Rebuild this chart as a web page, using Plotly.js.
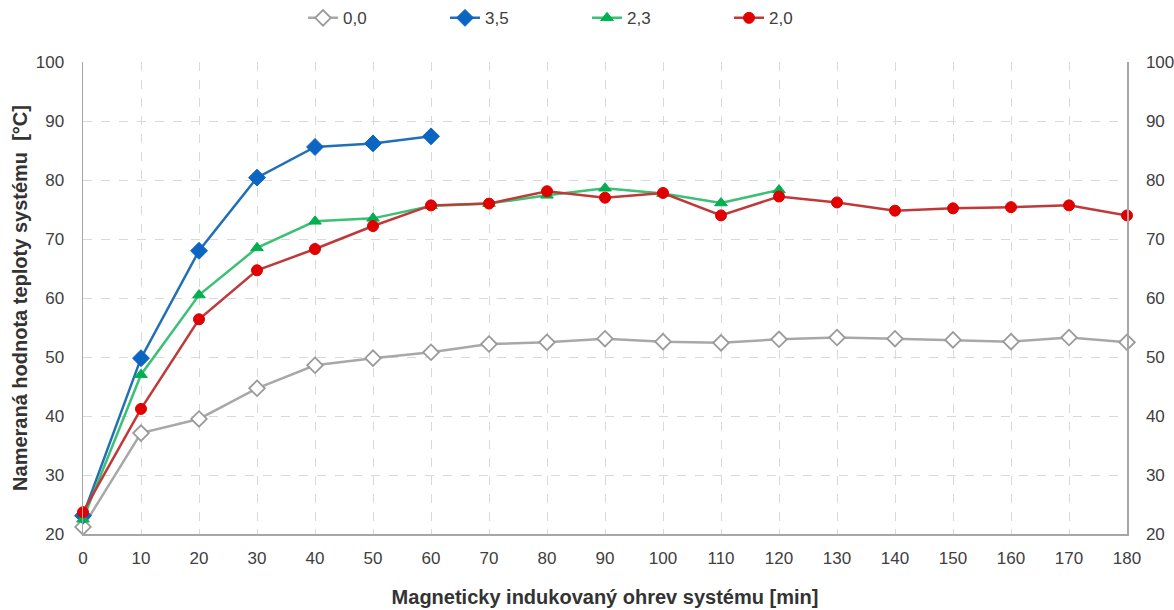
<!DOCTYPE html>
<html>
<head>
<meta charset="utf-8">
<script src="https://cdn.plot.ly/plotly-3.0.1.min.js"></script>
<style>
  html, body { margin: 0; padding: 0; background: #fff; }
  #chart { width: 1174px; height: 610px; }
</style>
</head>
<body>
<div id="chart"></div>
<script>
// Heating time [min]
const timeFull = [0, 10, 20, 30, 40, 50, 60, 70, 80, 90, 100, 110, 120, 130, 140, 150, 160, 170, 180];
const time60 = [0, 10, 20, 30, 40, 50, 60];
const time120 = [0, 10, 20, 30, 40, 50, 60, 70, 80, 90, 100, 110, 120];

// Measured system temperature [°C] per series
const seriesNames = ['0,0', '3,5', '2,3', '2,0'];
const temp00 = [21.2, 37.1, 39.5, 44.7, 48.6, 49.8, 50.8, 52.2, 52.5, 53.1, 52.6, 52.4, 53.0, 53.3, 53.1, 52.9, 52.6, 53.3, 52.5];
const temp35 = [23.1, 49.8, 68.0, 80.4, 85.6, 86.2, 87.4];
const temp23 = [22.5, 47.0, 60.5, 68.5, 73.0, 73.5, 75.6, 76.0, 77.4, 78.6, 77.7, 76.1, 78.3];
const temp20 = [23.7, 41.2, 56.4, 64.7, 68.3, 72.2, 75.7, 76.0, 78.1, 77.0, 77.8, 74.0, 77.2, 76.2, 74.8, 75.2, 75.4, 75.7, 74.0];

const xTicks = [0, 10, 20, 30, 40, 50, 60, 70, 80, 90, 100, 110, 120, 130, 140, 150, 160, 170, 180];
const yTicks = [20, 30, 40, 50, 60, 70, 80, 90, 100];

const traces = [
  {
    x: timeFull, y: temp00, name: seriesNames[0], type: 'scatter', mode: 'lines+markers', cliponaxis: false,
    line: { color: '#a8a8a8', width: 2.5 },
    marker: { symbol: 'diamond', size: 12, color: '#ffffff', line: { color: '#9a9a9a', width: 1.8 } }
  },
  {
    x: time60, y: temp35, name: seriesNames[1], type: 'scatter', mode: 'lines+markers', cliponaxis: false,
    line: { color: '#2170b5', width: 2.5 },
    marker: { symbol: 'diamond', size: 13, color: '#0a66c2', line: { color: '#0a66c2', width: 1 } }
  },
  {
    x: time120, y: temp23, name: seriesNames[2], type: 'scatter', mode: 'lines+markers', cliponaxis: false,
    line: { color: '#3cc073', width: 2.5 },
    marker: { symbol: 'triangle-up', size: 11, color: '#00b050', line: { color: '#00b050', width: 1 } }
  },
  {
    x: timeFull, y: temp20, name: seriesNames[3], type: 'scatter', mode: 'lines+markers', cliponaxis: false,
    line: { color: '#c0393a', width: 2.5 },
    marker: { symbol: 'circle', size: 11, color: '#e00000', line: { color: '#e00000', width: 1 } }
  },
  // carries the mirrored right-hand temperature scale
  {
    x: [timeFull[0]], y: [yTicks[0]], yaxis: 'y2', type: 'scatter', mode: 'markers',
    marker: { opacity: 0 }, showlegend: false, hoverinfo: 'skip'
  }
];

const tickFont = { family: 'Liberation Sans, Arial, sans-serif', size: 17, color: '#404040' };

const layout = {
  width: 1174, height: 610,
  margin: { l: 83, r: 47, t: 62, b: 76 },
  paper_bgcolor: '#ffffff', plot_bgcolor: '#ffffff',
  showlegend: true,
  legend: {
    orientation: 'h', x: 0.5, xanchor: 'center', xref: 'container',
    y: 0.97, yanchor: 'middle', yref: 'container',
    font: { family: 'Liberation Sans, Arial, sans-serif', size: 17, color: '#404040' },
    entrywidth: 97, entrywidthmode: 'pixels', traceorder: 'normal'
  },
  xaxis: {
    range: [0, 180], tickvals: xTicks, ticktext: xTicks.map(String),
    showgrid: true, gridcolor: '#d9d9d9', griddash: 'dash', gridwidth: 1,
    showline: true, linecolor: '#a6a6a6', linewidth: 1.5, mirror: false,
    ticks: 'inside', ticklen: 5, tickcolor: '#d9d9d9',
    zeroline: false, tickfont: tickFont, ticklabelstandoff: 8,
    title: { text: 'Magneticky indukovaný ohrev systému [min]', standoff: 23,
             font: { family: 'Liberation Sans, Arial, sans-serif', size: 20, color: '#333333', weight: 'bold' } }
  },
  yaxis: {
    range: [20, 100], tickvals: yTicks, ticktext: yTicks.map(String),
    showgrid: true, gridcolor: '#d9d9d9', griddash: 'dash', gridwidth: 1,
    showline: true, linecolor: '#a6a6a6', linewidth: 1.5,
    ticks: '', zeroline: false, tickfont: tickFont, ticklabelstandoff: 14,
    title: { text: 'Nameraná hodnota teploty systému  [°C]', standoff: 2,
             font: { family: 'Liberation Sans, Arial, sans-serif', size: 20, color: '#333333', weight: 'bold' } }
  },
  yaxis2: {
    overlaying: 'y', side: 'right', range: [20, 100], tickvals: yTicks, ticktext: yTicks.map(String),
    showgrid: false, showline: true, linecolor: '#a6a6a6', linewidth: 1.5,
    ticks: '', zeroline: false, tickfont: tickFont, ticklabelstandoff: 14
  }
};

Plotly.newPlot('chart', traces, layout, { displayModeBar: false, staticPlot: true });
</script>
</body>
</html>
